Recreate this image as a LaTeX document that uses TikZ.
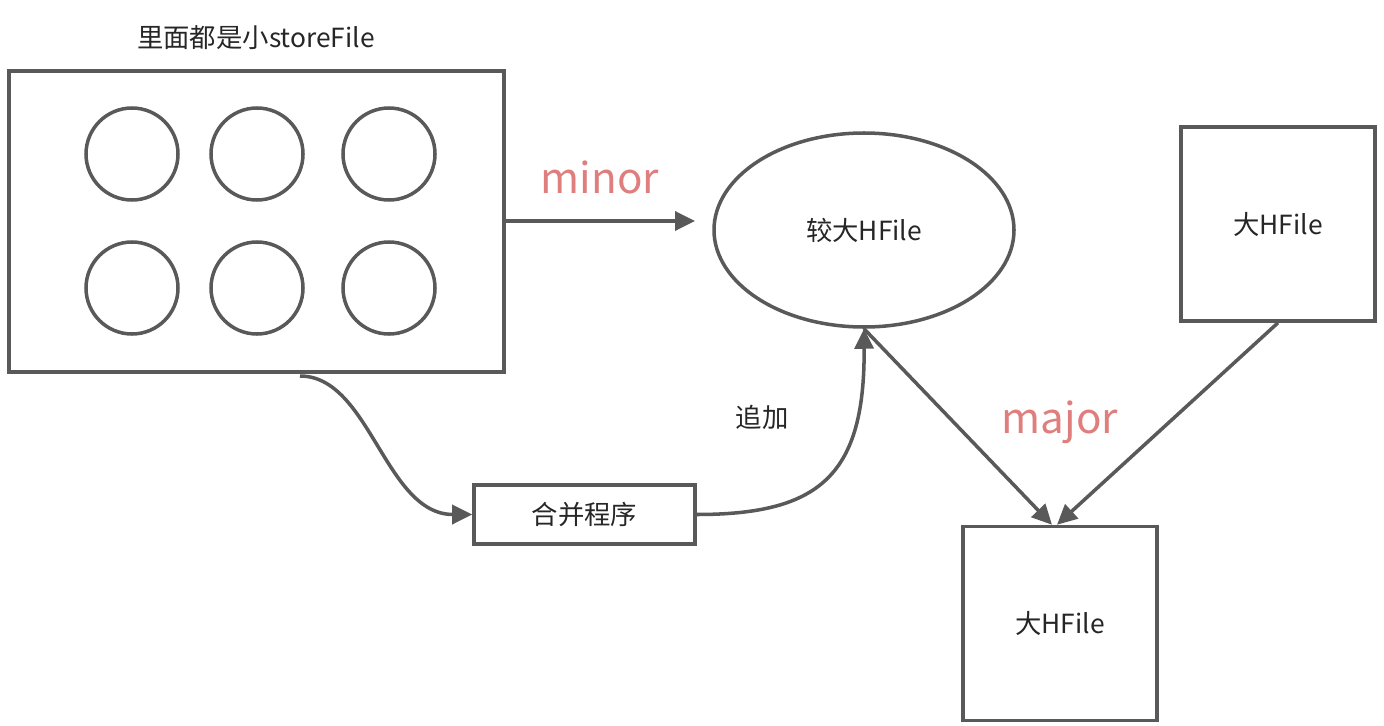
\documentclass[tikz,border=0pt]{standalone}
\usepackage{fontspec}
\setmainfont{Noto Sans CJK SC}
\usepackage{tikz}
\usetikzlibrary{arrows.meta,calc,positioning,shapes.geometric}

\definecolor{linegray}{HTML}{595959}
\definecolor{labelpink}{HTML}{E07E7E}
\definecolor{textgray}{HTML}{262626}

\begin{document}
\begin{tikzpicture}[
		box/.style={draw=linegray, line width=2pt, inner sep=0pt},
		smallfile/.style={circle, draw=linegray, line width=2pt, minimum size=1.84cm},
		txt/.style={text=textgray, font=\fontsize{15}{18}\selectfont},
		biglabel/.style={text=labelpink, font=\fontsize{24}{28}\selectfont},
		conn/.style={draw=linegray, line width=2pt, -{Triangle[length=0.4cm,width=0.38cm]}}
	]
		\useasboundingbox (0,0) rectangle (27.68,-14.52);
		
		\node[box, minimum width=9.9cm, minimum height=6.02cm] (store) at (5.13,-4.43) {};
		\node[txt] (title) at (5.12,-0.76) {里面都是小storeFile};
		\node[smallfile] (s1) at (2.64,-3.08) {};
		\node[smallfile] (s2) at (5.14,-3.08) {};
		\node[smallfile] (s3) at (7.78,-3.08) {};
		\node[smallfile] (s4) at (2.64,-5.76) {};
		\node[smallfile] (s5) at (5.14,-5.76) {};
		\node[smallfile] (s6) at (7.78,-5.76) {};
		
		\node[box, ellipse, minimum width=6cm, minimum height=3.88cm, txt] (mid) at (17.28,-4.6) {较大HFile};
		\node[box, minimum size=3.88cm, txt] (big1) at (25.56,-4.48) {大HFile};
		\node[box, minimum size=3.88cm, txt] (big2) at (21.2,-12.47) {大HFile};
		\node[box, minimum width=4.42cm, minimum height=1.18cm, txt] (merge) at (11.69,-10.29) {合并程序};
		
		\node[biglabel] (minor) at (12,-3.55) {minor};
		\node[txt] (append) at (15.24,-8.34) {追加};
		\node[biglabel] (major) at (21.2,-8.45) {major};
		
		\coordinate (minorend) at (13.9,-4.42);
		\coordinate (curvestart) at (6,-7.52);
		
		\draw[conn] (store.east |- minorend) -- (minorend);
		\draw[conn] (curvestart) .. controls (7.4,-7.52) and (7.7,-10.29) .. (merge.west);
		\draw[conn] (merge.east) .. controls (16.4,-10.29) and (17.3,-9.5) .. (mid.south);
		\draw[conn] (mid.south) -- ([xshift=-0.16cm]big2.north);
		\draw[conn] (big1.south) -- ([xshift=-0.06cm]big2.north);
	\end{tikzpicture}
\end{document}
